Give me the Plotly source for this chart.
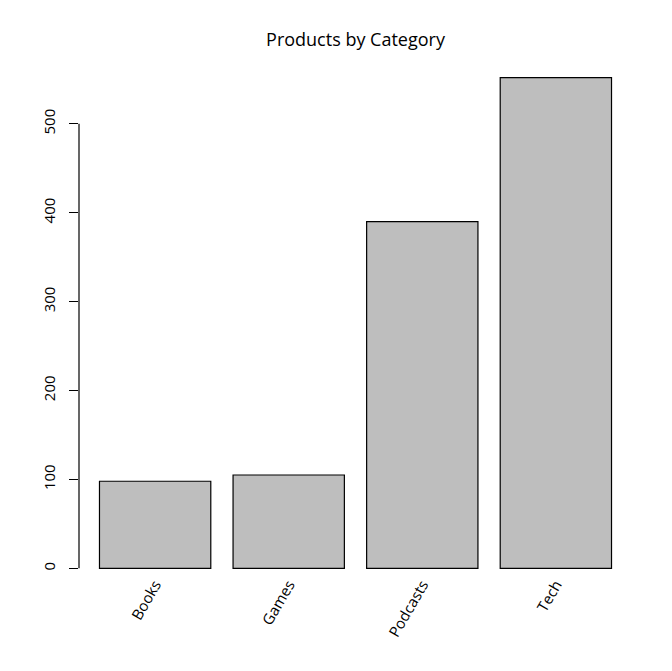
import plotly.graph_objects as go

categories = ["Books", "Games", "Podcasts", "Tech"]
values = [98, 105, 390, 552]
y_ticks = [0, 100, 200, 300, 400, 500]
title_text = "Products by Category"

FONT = "Open Sans"
ymax = max(values)
pad = 0.04 * ymax

fig = go.Figure()
fig.add_trace(go.Bar(
    x=categories, y=values,
    marker=dict(color="#BEBEBE", line=dict(color="black", width=1.2)),
    showlegend=False,
))

fig.add_shape(type="line", xref="paper", x0=0, x1=0, yref="y",
              y0=y_ticks[0], y1=y_ticks[-1],
              line=dict(color="black", width=1.2))

fig.update_layout(
    width=672, height=671,
    margin=dict(l=71, r=48, t=50, b=91),
    paper_bgcolor="white", plot_bgcolor="white",
    bargap=1/6,
    font=dict(family=FONT, color="black", size=15),
    title=dict(text=title_text, x=0.5, xref="paper", xanchor="center",
               y=1 - 32/671, yref="container", yanchor="middle",
               font=dict(family=FONT, size=18, color="black")),
    xaxis=dict(type="category", range=[-0.57, 3.57], showline=False,
               showgrid=False, zeroline=False, ticks="", tickangle=-60,
               ticklabelstandoff=-16, tickfont=dict(size=15)),
    yaxis=dict(range=[-pad, ymax + pad], showline=False, showgrid=False,
               zeroline=False, ticks="outside", ticklen=9, tickwidth=1.2,
               tickcolor="black", tickvals=y_ticks, tickangle=-90,
               ticklabelstandoff=8, tickfont=dict(size=15)),
)

fig.write_html("out.html")
